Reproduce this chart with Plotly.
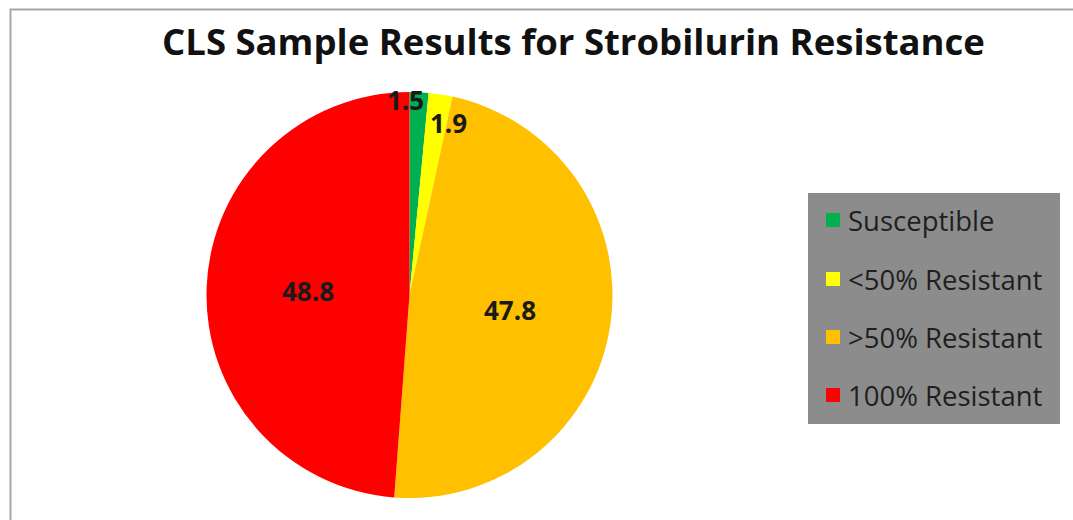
import math
import plotly.graph_objects as go

W, H = 1073, 520

categories = ["Susceptible", "<50% Resistant", ">50% Resistant", "100% Resistant"]
values = [1.5, 1.9, 47.8, 48.8]
colors = ["#00b050", "#ffff00", "#ffc000", "#ff0000"]

# label placement styling (radius fraction, pixel nudges)
label_r = [0.96, 0.88, 0.5, 0.5]
label_dx = [-13, 12, 0, 0]
label_dy = [0, 5, 0, 0]

# pie geometry in pixels
cx, cy, R = 409.5, 295, 203

FONT = "Open Sans"

fig = go.Figure()
fig.add_trace(go.Pie(
    labels=categories, values=values, sort=False, direction="clockwise", rotation=0,
    marker=dict(colors=colors, line=dict(width=0)),
    textinfo="none", hoverinfo="label+value", showlegend=False,
    domain=dict(x=[(cx - R) / W, (cx + R) / W], y=[1 - (cy + R) / H, 1 - (cy - R) / H]),
))

annotations = []
total = sum(values)
cum = 0
for i, v in enumerate(values):
    mid = (cum + v / 2) / total * 2 * math.pi
    cum += v
    px = cx + label_r[i] * R * math.sin(mid) + label_dx[i]
    py = cy - label_r[i] * R * math.cos(mid) + label_dy[i]
    annotations.append(dict(x=px / W, y=1 - py / H, xref="paper", yref="paper",
                            xanchor="center", yanchor="middle",
                            text=f"{v}", showarrow=False,
                            font=dict(family=FONT, size=26, color="#1a1a1a", weight="bold")))

# title
annotations.append(dict(x=573 / W, y=1 - 41 / H, xref="paper", yref="paper",
                        xanchor="center", yanchor="middle",
                        text="CLS Sample Results for Strobilurin Resistance", showarrow=False,
                        font=dict(family=FONT, size=36.5, color="#111111", weight="bold")))

shapes = [
    dict(type="rect", xref="paper", yref="paper", x0=10.5 / W, x1=1.05, y0=-0.05, y1=1 - 9.5 / H,
         line=dict(color="#a6a6a6", width=2), fillcolor="rgba(0,0,0,0)"),
    dict(type="rect", xref="paper", yref="paper", x0=808 / W, x1=1060 / W, y0=1 - 424 / H, y1=1 - 193 / H,
         line=dict(width=0), fillcolor="#8c8c8c"),
]

legend_y = [220, 279, 337, 395]
for i, cat in enumerate(categories):
    y = legend_y[i]
    shapes.append(dict(type="rect", xref="paper", yref="paper", x0=826 / W, x1=840 / W,
                       y0=1 - (y + 7) / H, y1=1 - (y - 7) / H, line=dict(width=0), fillcolor=colors[i]))
    annotations.append(dict(x=846 / W, y=1 - y / H, xref="paper", yref="paper",
                            xanchor="left", yanchor="middle",
                            text=cat.replace("<", "&lt;").replace(">", "&gt;"), showarrow=False,
                            font=dict(family=FONT, size=27.5, color="#1f1f1f")))

fig.update_layout(width=W, height=H, margin=dict(l=0, r=0, t=0, b=0),
                  paper_bgcolor="white", plot_bgcolor="white",
                  annotations=annotations, shapes=shapes)
fig.write_html("out.html")
